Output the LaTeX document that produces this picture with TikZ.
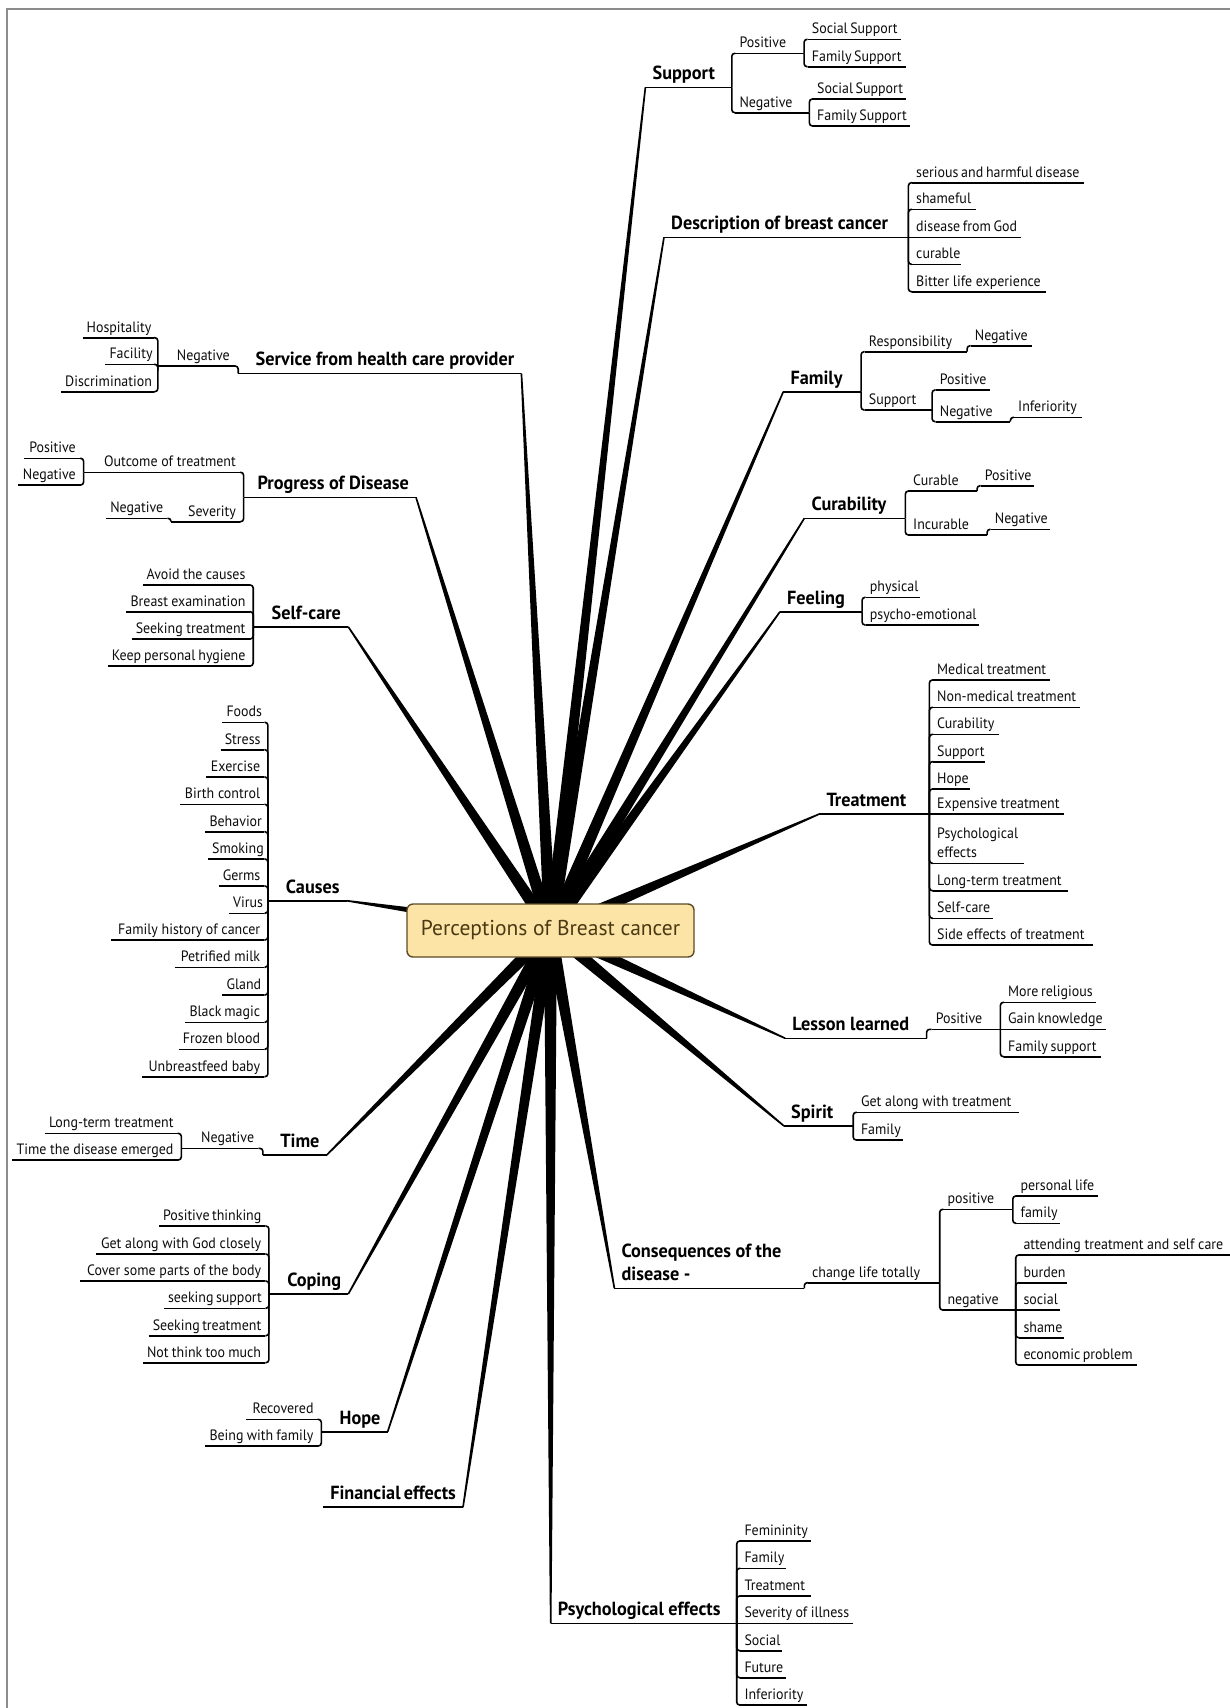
\documentclass[tikz,border=0pt]{standalone}
\usepackage{fontspec}
\setmainfont{PT Sans}
\newfontfamily\leaffont[FakeStretch=0.93]{PT Sans}
\newfontfamily\branchfont[FakeStretch=0.96]{PT Sans}
\usetikzlibrary{calc}
\pgfdeclarelayer{paper}
\pgfdeclarelayer{spokes}
\pgfsetlayers{paper,spokes,main}

\definecolor{hubfill}{HTML}{FCE3A6}
\definecolor{hubdraw}{HTML}{5C4A28}
\definecolor{hubtext}{HTML}{4A3A14}
\definecolor{framegray}{HTML}{8C8C8C}

% two stacked lines, baseline on the last one
\newcommand\twolines[1]{\begin{tabular}[b]{@{}l@{}}#1\end{tabular}}

\tikzset{
  ln/.style={line width=1.6pt, draw=black},
  conn/.style={ln, rounded corners=3pt},
  uline/.style={append after command={(\tikzlastnode.south west) edge[ln] (\tikzlastnode.south east)}},
  leaf/.style={uline, inner xsep=4pt, inner ysep=5.5pt, text depth=0pt, text=black!95,
    font=\leaffont\fontsize{15}{17.5}\selectfont},
  branch/.style={uline, inner xsep=7pt, inner ysep=7.5pt, text depth=0pt, text=black,
    font=\branchfont\bfseries\fontsize{19}{22.5}\selectfont},
  % #1 = length of the underline
  lR/.style={leaf, anchor=south west,
    execute at begin node={\hbox to \dimexpr#1pt-8pt\relax\bgroup},
    execute at end node={\hfil\egroup}},
  lL/.style={leaf, anchor=south east,
    execute at begin node={\hbox to \dimexpr#1pt-8pt\relax\bgroup\hfil},
    execute at end node={\egroup}},
  bR/.style={branch, anchor=south west,
    execute at begin node={\hbox to \dimexpr#1pt-14pt\relax\bgroup},
    execute at end node={\hfil\egroup}},
  bL/.style={branch, anchor=south east,
    execute at begin node={\hbox to \dimexpr#1pt-14pt\relax\bgroup\hfil},
    execute at end node={\egroup}},
  hub/.style={draw=hubdraw, line width=1.4pt, fill=hubfill, rounded corners=6pt,
    minimum width=287pt, minimum height=53pt, inner sep=0pt, text=hubtext,
    font=\fontsize{21.5}{25}\selectfont},
}

% tapered spoke from the central topic to a branch
\newcommand\spoke[1]{%
  \fill ($(hub.center)!6.5pt!90:(#1)$) -- ($(#1)!0.8pt!-90:(hub.center)$)
     -- ($(#1)!0.8pt!90:(hub.center)$) -- ($(hub.center)!6.5pt!-90:(#1)$) -- cycle;}

\begin{document}
\begin{tikzpicture}[x=1pt,y=-1pt]
\useasboundingbox (0,0) rectangle (1230,1708);
\begin{pgfonlayer}{paper}
  \fill[white] (0,0) rectangle (1230,1708);
  \draw[framegray, line width=1.5pt] (7,1708) -- (7,9) -- (1230,9);
\end{pgfonlayer}

\node[hub] (hub) at (550.5,930.5) {Perceptions of Breast cancer};

% ---------------- right-hand branches ----------------
\node[bR=86] (sup) at (645.4,87.3) {Support};
\node[lR=68.3] (supP) at (735.4,53.3) {Positive};
\node[lR=92.8] (supPS) at (807.7,39.3) {Social Support};
\node[lR=97.6] (supPF) at (807.7,66.7) {Family Support};
\node[lR=73.6] (supN) at (735.4,112.7) {Negative};
\node[lR=92.3] (supNS) at (813,99) {Social Support};
\node[lR=97] (supNF) at (813,126) {Family Support};

\node[bR=244] (des) at (664,237.3) {Description of breast cancer};
\node[lR=171.3] (des1) at (912,182.7) {serious and harmful disease};
\node[lR=63.6] (des2) at (912,209.3) {shameful};
\node[lR=109] (des3) at (912,237.3) {disease from God};
\node[lR=48.8] (des4) at (912,264.3) {curable};
\node[lR=134] (des5) at (912,291.7) {Bitter life experience};

\node[bR=77.4] (fam) at (783.3,391.7) {Family};
\node[lR=102] (famR) at (864.7,351.7) {Responsibility};
\node[lR=61] (famRN) at (970.7,345.7) {Negative};
\node[lR=67] (famS) at (864.7,410) {Support};
\node[lR=54.3] (famSP) at (935.7,390) {Positive};
\node[lR=74.3] (famSN) at (935.7,421.7) {Negative};
\node[lR=67.7] (famSNI) at (1014,417.3) {Inferiority};

\node[bR=100.7] (cur) at (804.3,518.3) {Curability};
\node[lR=67.7] (curC) at (909,491) {Curable};
\node[lR=53.3] (curCP) at (980.7,485.7) {Positive};
\node[lR=77.7] (curI) at (909,535) {Incurable};
\node[lR=59.3] (curIN) at (990.7,529.3) {Negative};

\node[bR=81.7] (fee) at (780,611.7) {Feeling};
\node[lR=53.6] (fee1) at (865.7,597.3) {physical};
\node[lR=112.6] (fee2) at (865.7,625) {psycho-emotional};

\node[bR=109.7] (tre) at (819.3,814) {Treatment};
\node[lR=117] (tre1) at (933,680) {Medical treatment};
\node[lR=147] (tre2) at (933,707.3) {Non-medical treatment};
\node[lR=65.3] (tre3) at (933,734.3) {Curability};
\node[lR=52] (tre4) at (933,761.7) {Support};
\node[lR=36.3] (tre5) at (933,789) {Hope};
\node[lR=130.3] (tre6) at (933,814) {Expensive treatment};
\node[lR=90.3] (tre7) at (933,863.3) {\twolines{Psychological\\[1.5pt]effects}};
\node[lR=134.3] (tre8) at (933,890.7) {Long-term treatment};
\node[lR=59.7] (tre9) at (933,918.3) {Self-care};
\node[lR=159.7] (tre10) at (933,945) {Side effects of treatment};

\node[bR=141] (les) at (785.2,1038.3) {Lesson learned};
\node[lR=68.4] (lesP) at (931.6,1029.3) {Positive};
\node[lR=91.3] (les1) at (1004,1002.3) {More religious};
\node[lR=101.7] (les2) at (1004,1029.3) {Gain knowledge};
\node[lR=96.3] (les3) at (1004,1056.7) {Family support};

\node[bR=68.8] (spi) at (784,1126) {Spirit};
\node[lR=161.4] (spi1) at (856.8,1112.3) {Get along with treatment};
\node[lR=45.8] (spi2) at (856.8,1140) {Family};

\node[bR=189.5] (con) at (614.4,1288.3) {\twolines{Consequences of the\\[0.8pt]disease -}};
\node[lR=131.4] (conC) at (807.9,1282.7) {change life totally};
\node[lR=69.1] (conP) at (943.3,1209.3) {positive};
\node[lR=81.6] (conP1) at (1016.4,1196) {personal life};
\node[lR=43.6] (conP2) at (1016.4,1223.3) {family};
\node[lR=72] (conN) at (943.3,1310) {negative};
\node[lR=210.7] (conN1) at (1019.3,1255) {attending treatment and self care};
\node[lR=47.7] (conN2) at (1019.3,1282.7) {burden};
\node[lR=40.7] (conN3) at (1019.3,1310) {social};
\node[lR=44.7] (conN4) at (1019.3,1337.7) {shame};
\node[lR=117.1] (conN5) at (1019.3,1365) {economic problem};

\node[bR=185.6] (psy) at (550.7,1623.3) {Psychological effects};
\node[lR=70.7] (psy1) at (740.3,1541) {Femininity};
\node[lR=45] (psy2) at (740.3,1568.3) {Family};
\node[lR=70.7] (psy3) at (740.3,1596) {Treatment};
\node[lR=112.7] (psy4) at (740.3,1623.3) {Severity of illness};
\node[lR=41.1] (psy5) at (740.3,1650.7) {Social};
\node[lR=45] (psy6) at (740.3,1677.7) {Future};
\node[lR=66.7] (psy7) at (740.3,1705) {Inferiority};

% ---------------- left-hand branches ----------------
\node[bL=282.8] (ser) at (521.4,373.3) {Service from health care provider};
\node[lL=75.8] (serN) at (234,366) {Negative};
\node[lL=71.3] (ser1) at (154.2,337.7) {Hospitality};
\node[lL=48.5] (ser2) at (154.2,364.3) {Facility};
\node[lL=92.8] (ser3) at (154.2,391.7) {Discrimination};

\node[bL=172] (pro) at (416,497.3) {Progress of Disease};
\node[lL=156] (proO) at (240,472.3) {Outcome of treatment};
\node[lL=55.7] (proOP) at (80,458.3) {Positive};
\node[lL=61.4] (proON) at (80,485) {Negative};
\node[lL=68.6] (proS) at (240,521.7) {Severity};
\node[lL=60.9] (proSN) at (167.4,518.3) {Negative};

\node[bL=94.6] (sel) at (348.2,626.7) {Self-care};
\node[lL=106.7] (sel1) at (249.6,585) {Avoid the causes};
\node[lL=122.8] (sel2) at (249.6,611.7) {Breast examination};
\node[lL=117.6] (sel3) at (249.6,639) {Seeking treatment};
\node[lL=141.6] (sel4) at (249.6,666) {Keep personal hygiene};

\node[bL=78.4] (cau) at (346.7,900.7) {Causes};
\node[lL=41.6] (cau1) at (264.3,722.3) {Foods};
\node[lL=43.3] (cau2) at (264.3,749.7) {Stress};
\node[lL=57.6] (cau3) at (264.3,777) {Exercise};
\node[lL=84.3] (cau4) at (264.3,804.3) {Birth control};
\node[lL=58.6] (cau5) at (264.3,831.7) {Behavior};
\node[lL=56] (cau6) at (264.3,859) {Smoking};
\node[lL=45.3] (cau7) at (264.3,886) {Germs};
\node[lL=35] (cau8) at (264.3,913.3) {Virus};
\node[lL=153.3] (cau9) at (264.3,940) {Family history of cancer};
\node[lL=89.3] (cau10) at (264.3,967.3) {Petrified milk};
\node[lL=41.6] (cau11) at (264.3,995) {Gland};
\node[lL=78.6] (cau12) at (264.3,1022.3) {Black magic};
\node[lL=85.3] (cau13) at (264.3,1049.3) {Frozen blood};
\node[lL=121.6] (cau14) at (264.3,1076.7) {Unbreastfeed baby};

\node[bL=63.4] (tim) at (326.7,1155) {Time};
\node[lL=76.6] (timN) at (258.3,1148.3) {Negative};
\node[lL=132.7] (tim1) at (177.7,1133.3) {Long-term treatment};
\node[lL=165] (tim2) at (177.7,1160) {Time the disease emerged};

\node[bL=79] (cop) at (348.3,1294) {Coping};
\node[lL=106] (cop1) at (265.3,1226) {Positive thinking};
\node[lL=168.6] (cop2) at (265.3,1254) {Get along with God closely};
\node[lL=184.6] (cop3) at (265.3,1281) {Cover some parts of the body};
\node[lL=101] (cop4) at (265.3,1308.3) {seeking support};
\node[lL=116.3] (cop5) at (265.3,1335.7) {Seeking treatment};
\node[lL=122] (cop6) at (265.3,1362.7) {Not think too much};

\node[bL=66] (hop) at (387.7,1431.7) {Hope};
\node[lL=71] (hop1) at (317.7,1419.3) {Recovered};
\node[lL=112] (hop2) at (317.7,1446) {Being with family};

\node[bL=139.5] (fin) at (463,1507.2) {Financial effects};

% ---------------- brackets ----------------
\foreach \c in {supP,supN} \draw[conn] (sup.south east) |- (\c.south west);
\foreach \c in {supPS,supPF} \draw[conn] (supP.south east) |- (\c.south west);
\foreach \c in {supNS,supNF} \draw[conn] (supN.south east) |- (\c.south west);
\foreach \c in {des1,des2,des4,des5} \draw[conn] (des.south east) |- (\c.south west);
\draw[ln] (des.south east) -- (des3.south west);
\foreach \c in {famR,famS} \draw[conn] (fam.south east) |- (\c.south west);
\draw[conn] (famR.south east) |- (famRN.south west);
\foreach \c in {famSP,famSN} \draw[conn] (famS.south east) |- (\c.south west);
\draw[conn] (famSN.south east) |- (famSNI.south west);
\foreach \c in {curC,curI} \draw[conn] (cur.south east) |- (\c.south west);
\draw[conn] (curC.south east) |- (curCP.south west);
\draw[conn] (curI.south east) |- (curIN.south west);
\foreach \c in {fee1,fee2} \draw[conn] (fee.south east) |- (\c.south west);
\foreach \c in {tre1,tre2,tre3,tre4,tre5,tre7,tre8,tre9,tre10} \draw[conn] (tre.south east) |- (\c.south west);
\draw[ln] (tre.south east) -- (tre6.south west);
\draw[conn] (les.south east) |- (lesP.south west);
\foreach \c in {les1,les3} \draw[conn] (lesP.south east) |- (\c.south west);
\draw[ln] (lesP.south east) -- (les2.south west);
\foreach \c in {spi1,spi2} \draw[conn] (spi.south east) |- (\c.south west);
\draw[conn] (con.south east) |- (conC.south west);
\foreach \c in {conP,conN} \draw[conn] (conC.south east) |- (\c.south west);
\foreach \c in {conP1,conP2} \draw[conn] (conP.south east) |- (\c.south west);
\foreach \c in {conN1,conN2,conN4,conN5} \draw[conn] (conN.south east) |- (\c.south west);
\draw[ln] (conN.south east) -- (conN3.south west);
\foreach \c in {psy1,psy2,psy3,psy5,psy6,psy7} \draw[conn] (psy.south east) |- (\c.south west);
\draw[ln] (psy.south east) -- (psy4.south west);

\draw[conn] (ser.south west) |- (serN.south east);
\foreach \c in {ser1,ser2,ser3} \draw[conn] (serN.south west) |- (\c.south east);
\foreach \c in {proO,proS} \draw[conn] (pro.south west) |- (\c.south east);
\foreach \c in {proOP,proON} \draw[conn] (proO.south west) |- (\c.south east);
\draw[conn] (proS.south west) |- (proSN.south east);
\foreach \c in {sel1,sel2,sel3,sel4} \draw[conn] (sel.south west) |- (\c.south east);
\foreach \c in {cau1,cau2,cau3,cau4,cau5,cau6,cau7,cau8,cau9,cau10,cau11,cau12,cau13,cau14}
  \draw[conn] (cau.south west) |- (\c.south east);
\draw[conn] (tim.south west) |- (timN.south east);
\foreach \c in {tim1,tim2} \draw[conn] (timN.south west) |- (\c.south east);
\foreach \c in {cop1,cop2,cop3,cop4,cop5,cop6} \draw[conn] (cop.south west) |- (\c.south east);
\foreach \c in {hop1,hop2} \draw[conn] (hop.south west) |- (\c.south east);

% ---------------- spokes from the central topic ----------------
\begin{pgfonlayer}{spokes}
  \foreach \b in {sup,des,fam,cur,fee,tre,les,spi,con,psy} \spoke{\b.south west};
  \foreach \b in {ser,pro,sel,cau,tim,cop,hop,fin} \spoke{\b.south east};
\end{pgfonlayer}
\end{tikzpicture}
\end{document}
